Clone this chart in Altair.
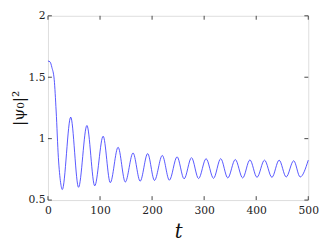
import altair as alt
import pandas as pd

# |psi_0|^2 (extrema and start-up points)
t_vals = [0, 4, 7.5, 12, 15.7, 20, 24.3, 27.5, 43.7, 58.7, 74.8, 89.8, 106, 119.7,
          134.7, 148.5, 163.4, 177.1, 191.5, 204.6, 219.6, 233.2, 248, 261.5, 275.7,
          289.3, 303.7, 318, 331.8, 345.4, 359.8, 374, 387.9, 401.5, 415.9, 430.2,
          444, 457.6, 472, 484.4, 500]
psi_vals = [1.632, 1.625, 1.58, 1.48, 1.225, 0.845, 0.642, 0.586, 1.175, 0.604, 1.107,
            0.616, 1.02, 0.642, 0.93, 0.647, 0.883, 0.654, 0.878, 0.66, 0.863, 0.662,
            0.852, 0.673, 0.845, 0.675, 0.837, 0.677, 0.837, 0.68, 0.83, 0.68, 0.827,
            0.685, 0.825, 0.685, 0.825, 0.688, 0.82, 0.688, 0.825]

x_ticks = [0, 100, 200, 300, 400, 500]
y_ticks = [0.5, 1, 1.5, 2]

W, H = 267, 189
FONT = "DejaVu Serif"

df = pd.DataFrame({"t": t_vals, "psi": psi_vals})
xt = pd.DataFrame({"t": x_ticks})
yt = pd.DataFrame({"psi": y_ticks})

xscale = alt.Scale(domain=[0, 500], nice=False, zero=False)
yscale = alt.Scale(domain=[0.5, 2], nice=False, zero=False)

line = alt.Chart(df).mark_line(color="#2a2aff", strokeWidth=0.8, interpolate="monotone").encode(
    x=alt.X("t:Q", scale=xscale,
            axis=alt.Axis(values=x_ticks, title="t", titleFont=FONT, titleFontStyle="italic",
                          titleFontWeight="normal", titleFontSize=20, titlePadding=6,
                          titleColor="#111",
                          labelFont=FONT, labelFontSize=11, labelColor="#222",
                          tickSize=0, labelPadding=5, domain=False, grid=False, labelFlush=False)),
    y=alt.Y("psi:Q", scale=yscale,
            axis=alt.Axis(values=y_ticks, format="~g", title="|ψ₀|²", titleFont=FONT,
                          titleFontWeight="normal", titleFontSize=16, titlePadding=2,
                          titleColor="#111",
                          labelFont=FONT, labelFontSize=11, labelColor="#222",
                          tickSize=0, labelPadding=3, domain=False, grid=False, labelFlush=False)),
)

tick_color = "#444"
xb = alt.Chart(xt).mark_rule(color=tick_color, strokeWidth=1).encode(
    x=alt.X("t:Q", scale=xscale), y=alt.value(H), y2=alt.value(H - 4))
xtop = alt.Chart(xt).mark_rule(color=tick_color, strokeWidth=1).encode(
    x=alt.X("t:Q", scale=xscale), y=alt.value(0), y2=alt.value(4))
yl = alt.Chart(yt).mark_rule(color=tick_color, strokeWidth=1).encode(
    y=alt.Y("psi:Q", scale=yscale), x=alt.value(0), x2=alt.value(4))
yr = alt.Chart(yt).mark_rule(color=tick_color, strokeWidth=1).encode(
    y=alt.Y("psi:Q", scale=yscale), x=alt.value(W), x2=alt.value(W - 4))

chart = alt.layer(line, xb, xtop, yl, yr).properties(
    width=W, height=H,
    autosize=alt.AutoSizeParams(type="none"),
    padding={"left": 41, "top": 5, "right": 11, "bottom": 40},
).configure_view(stroke="#3a3a3a", strokeWidth=1.3).configure(background="white")

chart.save("out.html", embed_options={"renderer": "svg", "actions": False})
